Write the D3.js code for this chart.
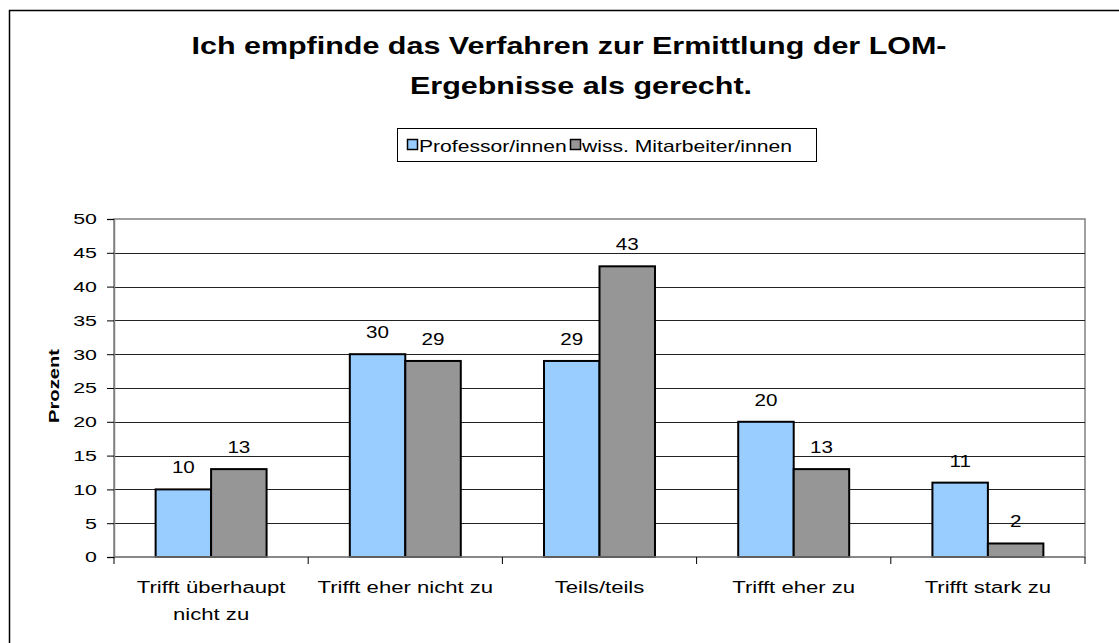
<html>
<head>
<meta charset="utf-8">
<script src="https://d3js.org/d3.v7.min.js"></script>
<style>
  body { margin: 0; background: #fff; }
  text { font-family: "Liberation Sans", Arial, sans-serif; }
</style>
</head>
<body>
<script>
// data
var categories = [["Trifft überhaupt", "nicht zu"], ["Trifft eher nicht zu"], ["Teils/teils"], ["Trifft eher zu"], ["Trifft stark zu"]];
var seriesNames = ["Professor/innen", "wiss. Mitarbeiter/innen"];
var professoren = [10, 30, 29, 20, 11];
var mitarbeiter = [13, 29, 43, 13, 2];
var yTicks = [0, 5, 10, 15, 20, 25, 30, 35, 40, 45, 50];
var titleLines = ["Ich empfinde das Verfahren zur Ermittlung der LOM-", "Ergebnisse als gerecht."];
var colors = ["#99ccff", "#969696"];

var W = 1119, H = 643;
var margin = { top: 219, right: 34, bottom: 86, left: 114 };
var width = W - margin.left - margin.right,
    height = H - margin.top - margin.bottom;

// the reference text is drawn wide, so every label gets a horizontal stretch
function wideText(parent, x, y, str, size, sx, anchor, weight, rot) {
  return parent.append("text")
    .attr("transform", "translate(" + x + "," + y + ")" + (rot ? " rotate(" + rot + ")" : "") + " scale(" + sx + ",1)")
    .attr("text-anchor", anchor || "middle")
    .attr("font-size", size)
    .attr("font-weight", weight || "normal")
    .attr("fill", "#000")
    .text(str);
}

var svg = d3.select("body").append("svg").attr("width", W).attr("height", H);

// outer chart frame
svg.append("rect").attr("x", 9.5).attr("y", 10.5).attr("width", 1200).attr("height", 800)
  .attr("fill", "#fff").attr("stroke", "#000").attr("stroke-width", 1.5);

// title
wideText(svg, 569, 54, titleLines[0], 24, 1.27, "middle", "bold");
wideText(svg, 581, 94, titleLines[1], 24, 1.27, "middle", "bold");

var g = svg.append("g").attr("transform", "translate(" + margin.left + "," + margin.top + ")");

var x0 = d3.scaleBand().domain(d3.range(categories.length)).range([0, width]).paddingInner(0).paddingOuter(0);
var groupW = x0.bandwidth();
var barW = groupW / 3.5;
var y = d3.scaleLinear().domain([0, 50]).range([height, 0]);

// plot area border
g.append("rect").attr("x", 0).attr("y", 0).attr("width", width).attr("height", height)
  .attr("fill", "#fff").attr("stroke", "#808080").attr("stroke-width", 1.5);

// gridlines
g.selectAll(".grid").data(yTicks.filter(function(d){ return d > 0 && d < 50; })).enter().append("line")
  .attr("x1", 0).attr("x2", width)
  .attr("y1", function(d){ return Math.round(y(d)) + 0.5; })
  .attr("y2", function(d){ return Math.round(y(d)) + 0.5; })
  .attr("stroke", "#222").attr("stroke-width", 1);

// bars + value labels
var series = [professoren, mitarbeiter];
series.forEach(function(vals, s) {
  g.selectAll(".bar" + s).data(vals).enter().append("rect")
    .attr("x", function(d, i){ return x0(i) + (groupW - 2 * barW) / 2 + s * barW; })
    .attr("y", function(d){ return y(d); })
    .attr("width", barW)
    .attr("height", function(d){ return height - y(d); })
    .attr("fill", colors[s]).attr("stroke", "#000").attr("stroke-width", 2);
  vals.forEach(function(d, i) {
    wideText(g, x0(i) + (groupW - 2 * barW) / 2 + s * barW + barW / 2, y(d) - 16, d, 16.5, 1.25);
  });
});

// y axis
var yAxis = g.append("g").call(d3.axisLeft(y).tickValues(yTicks).tickSize(7).tickPadding(6));
yAxis.select(".domain").attr("stroke", "#808080").attr("stroke-width", 1.5);
yAxis.selectAll(".tick line").attr("stroke", "#000");
yAxis.selectAll("text").attr("x", 0).attr("font-size", 15.5).attr("fill", "#000")
  .attr("transform", "translate(-17,0) scale(1.38,1)")
  .style("font-family", "'Liberation Sans', Arial, sans-serif");

// x axis
var xAxis = g.append("g").attr("transform", "translate(0," + height + ")");
xAxis.append("line").attr("x1", 0).attr("x2", width).attr("y1", 0).attr("y2", 0)
  .attr("stroke", "#808080").attr("stroke-width", 1.5);
xAxis.selectAll(".xt").data(d3.range(categories.length + 1)).enter().append("line")
  .attr("x1", function(d){ return d < categories.length ? x0(d) : width; })
  .attr("x2", function(d){ return d < categories.length ? x0(d) : width; })
  .attr("y1", 0).attr("y2", 7).attr("stroke", "#000");
categories.forEach(function(lines, i) {
  lines.forEach(function(l, k) {
    wideText(xAxis, x0(i) + groupW / 2, 36 + k * 27, l, 16.5, 1.34);
  });
});

// y axis title
wideText(svg, 59, 386, "Prozent", 15, 1.35, "middle", "bold", -90);

// legend
var leg = svg.append("g");
leg.append("rect").attr("x", 397.5).attr("y", 128.5).attr("width", 419).attr("height", 33)
  .attr("fill", "#fff").attr("stroke", "#000").attr("stroke-width", 1);
var legX = [407, 570];
seriesNames.forEach(function(n, i) {
  leg.append("rect").attr("x", legX[i] + 0.5).attr("y", 139.5).attr("width", 10).attr("height", 10)
    .attr("fill", colors[i]).attr("stroke", "#000").attr("stroke-width", 1.5);
  wideText(leg, legX[i] + 12, 152, n, 16.5, 1.28, "start");
});
</script>
</body>
</html>
